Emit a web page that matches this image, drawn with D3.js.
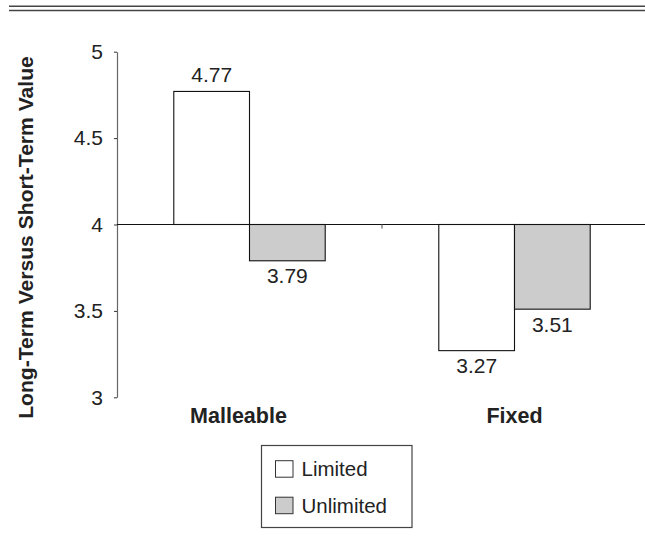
<!DOCTYPE html>
<html>
<head>
<meta charset="utf-8">
<script src="https://cdn.jsdelivr.net/npm/d3@7"></script>
<style>
  html, body { margin: 0; padding: 0; background: #fff; }
  svg { display: block; font-family: "Liberation Sans", Arial, Helvetica, sans-serif; }
</style>
</head>
<body>
<svg id="chart" width="645" height="539"></svg>
<script>
const categories = ["Malleable", "Fixed"];
const series = ["Limited", "Unlimited"];
const limitedValues = [4.77, 3.27];
const unlimitedValues = [3.79, 3.51];
const yTicks = [3, 3.5, 4, 4.5, 5];
const yTitle = "Long-Term Versus Short-Term Value";
const baselineValue = 4;

const seriesValues = [limitedValues, unlimitedValues];
const fills = { "Limited": "#ffffff", "Unlimited": "#cccccc" };

const svg = d3.select("#chart");

// top double rule
[6.3, 10.5].forEach(yy => {
  svg.append("line").attr("x1", 9).attr("x2", 645).attr("y1", yy).attr("y2", yy)
    .attr("stroke", "#444").attr("stroke-width", 1.4);
});

const x = d3.scaleBand().domain(categories).range([117, 647]).padding(0);
const xSub = d3.scaleBand().domain(series).range([0, x.bandwidth()])
  .paddingInner(0).paddingOuter(0.75);
const y = d3.scaleLinear().domain([3, 5]).range([397.3, 51.7]);

// y axis
const yAxis = d3.axisLeft(y).tickValues(yTicks).tickSize(3).tickSizeOuter(0).tickPadding(11)
  .tickFormat(d => String(d));
const gy = svg.append("g").attr("transform", "translate(117,0)").call(yAxis);
gy.select(".domain").attr("stroke", "#666").attr("stroke-width", 1.2);
gy.selectAll(".tick line").attr("stroke", "#333");
gy.selectAll(".tick text").attr("font-size", 21).attr("fill", "#222")
  .attr("font-family", "'Liberation Sans', Arial, sans-serif");

// bars
const data = [];
categories.forEach((c, i) => {
  series.forEach((s, j) => data.push({ cat: c, ser: s, v: seriesValues[j][i] }));
});

svg.append("g").selectAll("rect").data(data).join("rect")
  .attr("x", d => x(d.cat) + xSub(d.ser))
  .attr("width", xSub.bandwidth())
  .attr("y", d => Math.min(y(d.v), y(baselineValue)))
  .attr("height", d => Math.abs(y(d.v) - y(baselineValue)))
  .attr("fill", d => fills[d.ser])
  .attr("stroke", "#111").attr("stroke-width", 1.1);

// baseline at 4
svg.append("line").attr("x1", 117).attr("x2", 645)
  .attr("y1", y(baselineValue)).attr("y2", y(baselineValue))
  .attr("stroke", "#111").attr("stroke-width", 1.2);

// category boundary tick
svg.append("line").attr("x1", x("Fixed")).attr("x2", x("Fixed"))
  .attr("y1", y(baselineValue)).attr("y2", y(baselineValue) + 4)
  .attr("stroke", "#666").attr("stroke-width", 1.2);

// value labels
svg.append("g").selectAll("text").data(data).join("text")
  .attr("x", d => x(d.cat) + xSub(d.ser) + xSub.bandwidth() / 2)
  .attr("y", d => d.v >= baselineValue ? y(d.v) - 9.5 : y(d.v) + 22.5)
  .attr("text-anchor", "middle")
  .attr("font-size", 21).attr("fill", "#222")
  .text(d => d.v.toFixed(2));

// category labels
svg.append("g").selectAll("text").data(categories).join("text")
  .attr("x", (d, i) => x(d) + x.bandwidth() / 2 + (i === 0 ? -11 : 0))
  .attr("y", 422.7)
  .attr("text-anchor", "middle")
  .attr("font-size", 21.5).attr("font-weight", "bold").attr("fill", "#222")
  .text(d => d);

// y title
svg.append("text")
  .attr("transform", "translate(33,237.5) rotate(-90)")
  .attr("text-anchor", "middle")
  .attr("font-size", 21.1).attr("font-weight", "bold").attr("fill", "#222")
  .text(yTitle);

// legend
const lg = svg.append("g");
lg.append("rect").attr("x", 261.5).attr("y", 445.5).attr("width", 150.5).attr("height", 82)
  .attr("fill", "#fff").attr("stroke", "#444").attr("stroke-width", 1.2);
series.forEach((s, i) => {
  const top = 460.7 + i * 36.5;
  lg.append("rect").attr("x", 275.5).attr("y", top).attr("width", 17.5).attr("height", 16.5)
    .attr("fill", fills[s]).attr("stroke", "#333").attr("stroke-width", 1);
  lg.append("text").attr("x", 301.5).attr("y", top + 15.5)
    .attr("font-size", 20.5).attr("fill", "#222").text(s);
});
</script>
</body>
</html>
